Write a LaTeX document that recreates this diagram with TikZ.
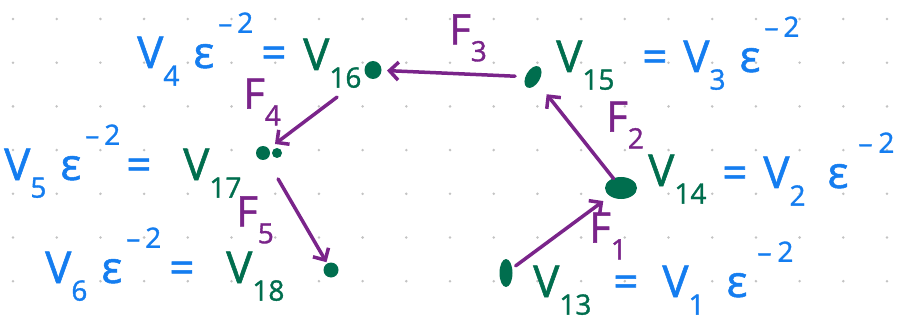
\documentclass[tikz,border=0pt]{standalone}
\usepackage{fontspec}
\setmainfont{Open Sans}[FakeBold=1.2]
\usetikzlibrary{arrows.meta,shapes.geometric}
\definecolor{hblue}{RGB}{20,125,240}
\definecolor{hgreen}{RGB}{0,110,78}
\definecolor{hpurple}{RGB}{122,36,138}
\definecolor{griddot}{RGB}{195,195,195}
\newcommand\lo[1]{\raisebox{-0.4em}{\fontsize{28}{28}\selectfont #1}}
\newcommand\hi[1]{\raisebox{0.8em}{\fontsize{28}{28}\selectfont #1}}
\newcommand\epsq{\hspace{14pt}ε\hspace{4pt}\hi{–\hspace{5pt}2}}
\newcommand\epsw{\hspace{22pt}ε\hspace{10pt}\hi{–\hspace{6pt}2}}
\begin{document}
\begin{tikzpicture}[x=1pt,y=-1pt,
  gdot/.style={ellipse,fill=hgreen,inner sep=0pt},
  farrow/.style={draw=hpurple,line width=3.5pt,line cap=round,line join=round,
    -{Straight Barb[length=9pt,width=18pt,line width=3.5pt]}},
  bl/.style={anchor=base west,inner sep=0pt,text=hblue,font=\fontsize{44}{48}\selectfont},
  gl/.style={anchor=base west,inner sep=0pt,text=hgreen,font=\fontsize{44}{48}\selectfont},
  flab/.style={inner sep=0pt,text=hpurple,font=\fontsize{42}{46}\selectfont}]
\useasboundingbox (0,0) rectangle (920,323);
\fill[white] (0,0) rectangle (920,323);
\foreach \i in {0,...,20}
  \foreach \j in {0,...,6}
    \fill[griddot] (13+43.7*\i,19+43.7*\j) circle (1.4);
% vertices
\node[gdot,minimum width=17,minimum height=18] (v16) at (373,70) {};
\node[gdot,minimum width=14,minimum height=24,rotate=-30] (v15) at (533,77) {};
\node[gdot,minimum width=14,minimum height=14] (v17) at (263,153) {};
\fill[hgreen] (277,153) circle (5);
\node[gdot,minimum width=32,minimum height=22] (v14) at (621,188) {};
\node[gdot,minimum width=13,minimum height=28] (v13) at (506,273) {};
\node[gdot,minimum width=15,minimum height=15] (v18) at (331,270) {};
% arrows
\draw[farrow,shorten <=18pt,shorten >=14pt] (v15.center) -- (v16.center);
\draw[farrow,shorten <=45pt,shorten >=15pt] (v16.center) -- (v17.center);
\draw[farrow,shorten <=30pt,shorten >=9pt] (v17.center) -- (v18.center);
\draw[farrow,shorten <=12pt,shorten >=22pt] (v14.center) -- (v15.center);
\draw[farrow,shorten <=12pt,shorten >=22pt] (v13.center) -- (v14.center);
% arrow labels
\node[flab] (f3) at (468,38) {F\lo{3}};
\node[flab] (f4) at (262,102) {F\lo{4}};
\node[flab] (f5) at (255,220) {F\lo{5}};
\node[flab] (f2) at (625,125) {F\lo{2}};
\node[flab] (f1) at (608,236) {F\lo{1}};
% vertex labels
\node[bl] (l16b) at (137,68) {V\lo{4}\epsq\hspace{8pt}=};
\node[gl] (l16g) at (303,70) {V\lo{16}};
\node[gl] (l15g) at (556,72) {V\lo{15}};
\node[bl] (l15b) at (642,72) {=\hspace{16pt}V\lo{3}\epsq};
\node[bl] (l17b) at (4,180) {V\lo{5}\epsq\hspace{6pt}=};
\node[gl] (l17g) at (183,180) {V\lo{17}};
\node[gl] (l14g) at (648,186) {V\lo{14}};
\node[bl] (l14b) at (722,188) {=\hspace{16pt}V\lo{2}\epsw};
\node[bl] (l18b) at (45,283) {V\lo{6}\epsq\hspace{8pt}=};
\node[gl] (l18g) at (226,283) {V\lo{18}};
\node[gl] (l13g) at (533,297) {V\lo{13}};
\node[bl] (l13b) at (613,297) {=\hspace{24pt}V\lo{1}\epsw};
\end{tikzpicture}
\end{document}
